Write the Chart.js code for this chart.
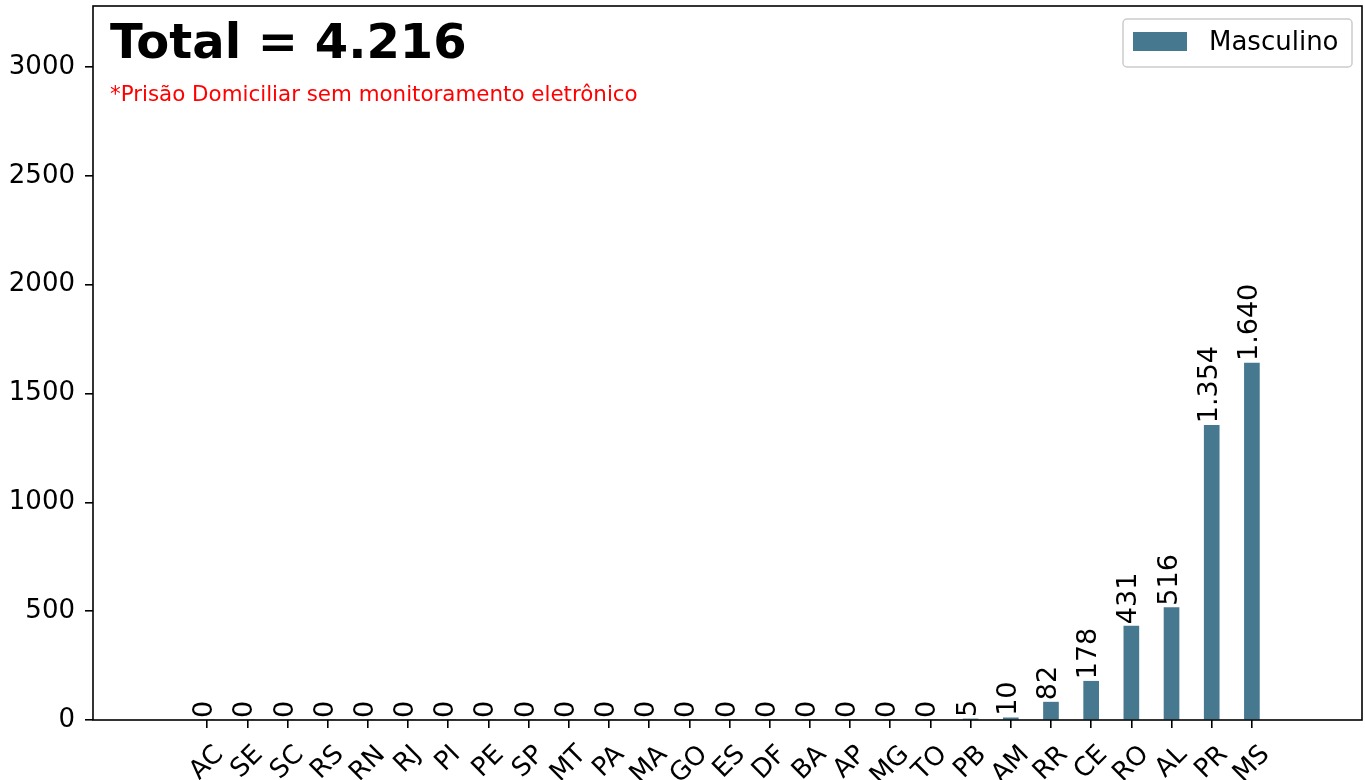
<!DOCTYPE html>
<html>
<head>
<meta charset="utf-8">
<script src="https://cdn.jsdelivr.net/npm/chart.js@4.4.1/dist/chart.umd.min.js"></script>
<style>
  body { margin: 0; background: #fff; }
  #wrap { width: 1365px; height: 780px; }
</style>
</head>
<body>
<div id="wrap"><canvas id="myChart"></canvas></div>
<script>
const states = ["AC", "SE", "SC", "RS", "RN", "RJ", "PI", "PE", "SP", "MT", "PA", "MA", "GO", "ES",
  "DF", "BA", "AP", "MG", "TO", "PB", "AM", "RR", "CE", "RO", "AL", "PR", "MS"];
const masculino = [0, 0, 0, 0, 0, 0, 0, 0, 0, 0, 0, 0, 0, 0,
  0, 0, 0, 0, 0, 5, 10, 82, 178, 431, 516, 1354, 1640];
const yTicks = [0, 500, 1000, 1500, 2000, 2500, 3000];
const seriesName = "Masculino";
const subtitle = "*Prisão Domiciliar sem monitoramento eletrônico";

const barColor = "rgb(70, 120, 143)";
const font = "'DejaVu Sans', 'Liberation Sans', sans-serif";

function fmt(v) {
  return String(v).replace(/\B(?=(\d{3})+(?!\d))/g, ".");
}

let total = 0;
for (let i = 0; i < masculino.length; i++) total += masculino[i];

// draws the frame, value labels, x labels, title and legend
const decor = {
  id: "decor",
  afterDatasetsDraw(chart) {
    const ctx = chart.ctx;
    const a = chart.chartArea;
    const xs = chart.scales.x;
    ctx.save();

    // bar labels
    ctx.fillStyle = "#000";
    ctx.font = "27px " + font;
    chart.getDatasetMeta(0).data.forEach((bar, i) => {
      ctx.save();
      ctx.translate(bar.x - 2, bar.y - 2);
      ctx.rotate(-Math.PI / 2);
      ctx.textAlign = "left";
      ctx.textBaseline = "middle";
      ctx.fillText(fmt(masculino[i]), 0, 0);
      ctx.restore();
    });

    // x tick labels, rotated 45 and centered on the tick
    ctx.font = "26px " + font;
    for (let i = 0; i < states.length; i++) {
      const px = xs.getPixelForValue(i);
      const w = ctx.measureText(states[i]).width;
      const yc = a.bottom + 20 + (w + 30) * 0.7071 / 2;
      ctx.save();
      ctx.translate(px, yc);
      ctx.rotate(-Math.PI / 4);
      ctx.textAlign = "center";
      ctx.textBaseline = "middle";
      ctx.fillText(states[i], 0, 0);
      ctx.restore();
    }

    // frame
    ctx.strokeStyle = "#000";
    ctx.lineWidth = 1.6;
    ctx.strokeRect(a.left, a.top, a.right - a.left, a.bottom - a.top);

    // title
    ctx.textAlign = "left";
    ctx.textBaseline = "alphabetic";
    ctx.font = "bold 48px " + font;
    ctx.fillText("Total = " + fmt(total), a.left + 17, 58);
    ctx.fillStyle = "red";
    ctx.font = "21.4px " + font;
    ctx.fillText(subtitle, a.left + 17, 101);

    // legend
    const lx = a.right - 239, ly = 19;
    ctx.beginPath();
    ctx.roundRect(lx, ly, 229, 48, 4);
    ctx.fillStyle = "rgba(255,255,255,0.8)";
    ctx.fill();
    ctx.strokeStyle = "#cccccc";
    ctx.lineWidth = 1.5;
    ctx.stroke();
    ctx.fillStyle = barColor;
    ctx.fillRect(lx + 10, ly + 13, 54, 19);
    ctx.fillStyle = "#000";
    ctx.font = "26px " + font;
    ctx.fillText(seriesName, lx + 86, ly + 31);

    ctx.restore();
  }
};

const ctx = document.getElementById("myChart").getContext("2d");
const myChart = new Chart(ctx, {
  type: "bar",
  data: {
    datasets: [
      {
        label: seriesName,
        data: masculino.map((v, i) => ({ x: i, y: v })),
        backgroundColor: barColor,
        barThickness: 15,
      },
    ],
  },
  options: {
    responsive: true,
    maintainAspectRatio: false,
    animation: false,
    layout: { padding: { left: 0, top: 6, right: 3, bottom: 0 } },
    plugins: {
      legend: { display: false },
      tooltip: { enabled: false },
    },
    scales: {
      x: {
        type: "linear",
        offset: false,
        min: -2.84,
        max: 28.74,
        afterBuildTicks: (scale) => {
          scale.ticks = states.map((s, i) => ({ value: i }));
        },
        afterFit: (scale) => {
          scale.height = 60;
          scale.paddingLeft = 0;
          scale.paddingRight = 0;
        },
        ticks: { display: false },
        grid: { offset: false, drawOnChartArea: false, drawTicks: true, tickLength: 8, color: "#000", lineWidth: 1.6 },
        border: { display: false },
      },
      y: {
        min: 0,
        max: 3280,
        afterBuildTicks: (scale) => {
          scale.ticks = yTicks.map((v) => ({ value: v }));
        },
        afterFit: (scale) => {
          scale.width = 93;
          scale.paddingTop = 0;
          scale.paddingBottom = 0;
        },
        ticks: {
          color: "#000",
          font: { family: "DejaVu Sans", size: 26 },
          padding: 10,
          callback: (v) => String(v),
        },
        grid: { drawOnChartArea: false, drawTicks: true, tickLength: 8, color: "#000", lineWidth: 1.6 },
        border: { display: false },
      },
    },
  },
  plugins: [decor],
});
</script>
</body>
</html>
